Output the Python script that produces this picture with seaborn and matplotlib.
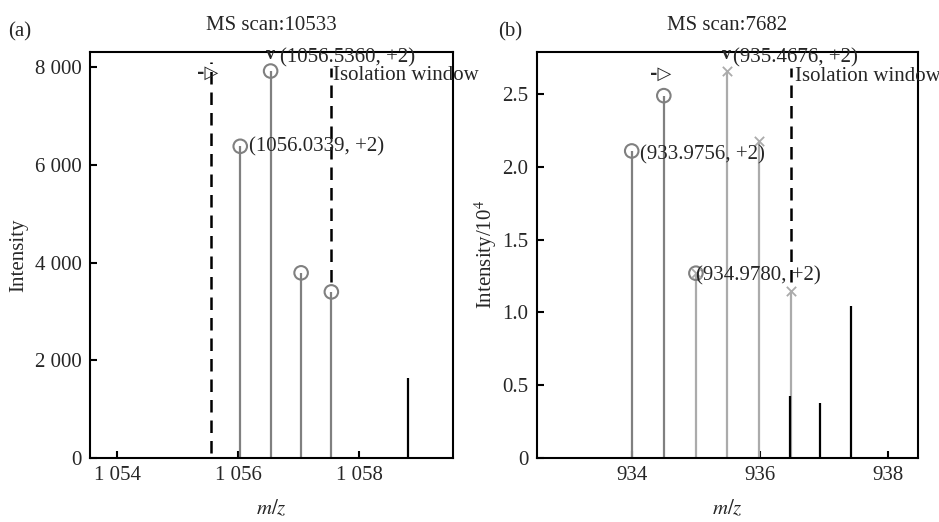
import matplotlib
matplotlib.use("Agg")
import matplotlib.pyplot as plt
import seaborn as sns
import numpy as np

# ---------------- data ----------------
# panel (a)
a_title = "MS scan:10533"
a_mz_gray = [1056.0339, 1056.5360, 1057.04, 1057.54]
a_int_gray = [6380, 7920, 3790, 3400]
a_mz_black = [1058.81]
a_int_black = [1640]
a_window_mz = [1055.55, 1057.54]
a_window_lo = [100, 3600]
a_window_hi = [8100, 7980]
a_xticks = [1054, 1056, 1058]
a_xticklabels = ["1 054", "1 056", "1 058"]
a_yticks = [0, 2000, 4000, 6000, 8000]
a_yticklabels = ["0", "2 000", "4 000", "6 000", "8 000"]

# panel (b)  (intensity / 10^4)
b_title = "MS scan:7682"
b_mz_dark = [934.0, 934.5]
b_int_dark = [2.11, 2.49]
b_mz_light_o = [935.0]
b_int_light_o = [1.27]
b_mz_light_x = [935.0, 935.48, 935.98, 936.48]
b_int_light_x = [1.27, 2.66, 2.18, 1.15]
b_mz_black = [936.46, 936.93, 937.42]
b_int_black = [0.426, 0.38, 1.045]
b_window_mz = [936.48]
b_window_lo = [1.21]
b_window_hi = [2.68]
b_xticks = [934, 936, 938]
b_xticklabels = ["934", "936", "938"]
b_yticks = [0, 0.5, 1.0, 1.5, 2.0, 2.5]
b_yticklabels = ["0", "0.5", "1.0", "1.5", "2.0", "2.5"]

# ---------------- style ----------------
sns.set_theme(style="ticks")
plt.rcParams["font.family"] = ["Liberation Serif", "DejaVu Serif"]
plt.rcParams["mathtext.fontset"] = "stix"
FS = 15

DARK = "#808080"
LIGHT = "#ababab"

fig = plt.figure(figsize=(9.39, 5.22), dpi=100)
axa = fig.add_axes([0.0958, 0.1226, 0.3866, 0.7778])
axb = fig.add_axes([0.5716, 0.1226, 0.4060, 0.7778])


def style_axes(ax, xlim, ylim, xt, xtl, yt, ytl, ylabel, title, ypad):
    ax.set_xlim(*xlim)
    ax.set_ylim(*ylim)
    ax.set_xticks(xt)
    ax.set_xticklabels(xtl, fontsize=FS)
    ax.set_yticks(yt)
    ax.set_yticklabels(ytl, fontsize=FS)
    ax.tick_params(direction="in", length=5, width=1.5, color="black", pad=6)
    for s in ax.spines.values():
        s.set_visible(True)
        s.set_linewidth(1.5)
        s.set_color("black")
    ax.set_xlabel("$m/z$", fontsize=FS, labelpad=10)
    ax.set_ylabel(ylabel, fontsize=FS, labelpad=ypad)
    ax.set_title(title, fontsize=FS, pad=16)


# ---------- panel (a) ----------
axa.vlines(a_mz_gray, 0, a_int_gray, color=DARK, lw=1.6)
axa.vlines(a_mz_black, 0, a_int_black, color="black", lw=1.6)
axa.vlines(a_window_mz, a_window_lo, a_window_hi, color="black", lw=1.8,
           linestyles=(0, (5, 3.2)))
sns.scatterplot(x=a_mz_gray, y=a_int_gray, ax=axa, marker="o", s=95,
                facecolors="none", edgecolors=DARK, linewidth=1.5, zorder=3)
axa.text(a_window_mz[0] - 0.05, 7880, "-▷", fontsize=13, fontweight="bold",
         family="DejaVu Sans", ha="center", va="center")
axa.text(a_mz_gray[1], 8260, "v", fontsize=13, fontweight="bold",
         ha="center", va="center")
axa.text(1056.69, 8190, "(1056.5360, +2)", fontsize=FS, ha="left", va="center")
axa.text(1057.57, 7820, "Isolation window", fontsize=FS, ha="left", va="center",
         clip_on=False)
axa.text(1056.18, 6366, "(1056.0339, +2)", fontsize=FS, ha="left", va="center")
style_axes(axa, (1053.55, 1059.55), (0, 8310), a_xticks, a_xticklabels,
           a_yticks, a_yticklabels, "Intensity", a_title, 4.5)

# ---------- panel (b) ----------
axb.vlines(b_mz_dark, 0, b_int_dark, color=DARK, lw=1.6)
axb.vlines(b_mz_light_x, 0, b_int_light_x, color=LIGHT, lw=1.6)
axb.vlines(b_mz_black, 0, b_int_black, color="black", lw=1.6)
axb.vlines(b_window_mz, b_window_lo, b_window_hi, color="black", lw=1.8,
           linestyles=(0, (5, 3.2)))
sns.scatterplot(x=b_mz_dark, y=b_int_dark, ax=axb, marker="o", s=95,
                facecolors="none", edgecolors=DARK, linewidth=1.5, zorder=3)
sns.scatterplot(x=b_mz_light_o, y=b_int_light_o, ax=axb, marker="o", s=95,
                facecolors="none", edgecolors=DARK, linewidth=1.5, zorder=3)
sns.scatterplot(x=b_mz_light_x, y=b_int_light_x, ax=axb, marker="x", s=45,
                color=LIGHT, linewidth=1.3, zorder=3)
axb.text(b_mz_dark[1] - 0.05, 2.64, "-▷", fontsize=13, fontweight="bold",
         family="DejaVu Sans", ha="center", va="center")
axb.text(b_mz_light_x[1], 2.77, "v", fontsize=13, fontweight="bold",
         ha="center", va="center")
axb.text(935.58, 2.75, "(935.4676, +2)", fontsize=FS, ha="left", va="center")
axb.text(936.54, 2.62, "Isolation window", fontsize=FS, ha="left", va="center",
         clip_on=False)
axb.text(934.13, 2.08, "(933.9756, +2)", fontsize=FS, ha="left", va="center")
axb.text(935.0, 1.25, "(934.9780, +2)", fontsize=FS, ha="left", va="center")
style_axes(axb, (932.52, 938.46), (0, 2.79), b_xticks, b_xticklabels,
           b_yticks, b_yticklabels, "Intensity/10$^{4}$", b_title, 2)

fig.text(8 / 939, 1 - 32 / 522, "(a)", fontsize=FS, ha="left", va="center")
fig.text(498 / 939, 1 - 32 / 522, "(b)", fontsize=FS, ha="left", va="center")

fig.savefig("out.png", dpi=100)
